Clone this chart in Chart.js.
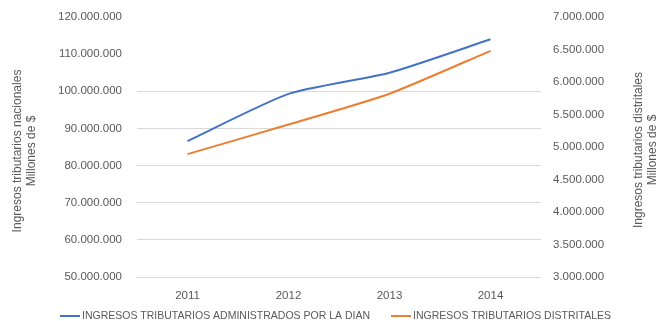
<!DOCTYPE html>
<html>
<head>
<meta charset="utf-8">
<script src="https://cdn.jsdelivr.net/npm/chart.js@4"></script>
<style>
  html, body { margin: 0; padding: 0; background: #fff; }
  #wrap { width: 656px; height: 321px; }
</style>
</head>
<body>
<div id="wrap"><canvas id="chart"></canvas></div>
<script>
// data
const years = ['2011', '2012', '2013', '2014'];
const ingresosDian = [86600000, 99300000, 105000000, 114000000];
const ingresosDistritales = [4890000, 5345000, 5820000, 6480000];
const labelDian = 'INGRESOS TRIBUTARIOS ADMINISTRADOS POR LA DIAN';
const labelDistritales = 'INGRESOS TRIBUTARIOS DISTRITALES';
const leftTitle = ['Ingresos tributarios nacionales', 'Millones de $'];
const rightTitle = ['Ingresos tributarios distritales', 'Millones de $'];
const hiddenGrid = [110000000, 120000000]; // covered by the title box in the original

const FONT = "'Liberation Sans', Arial, sans-serif";
const GREY = '#595959';

// 120.000.000 style numbers
function fmt(v) {
    return String(Math.round(v)).replace(/\B(?=(\d{3})+(?!\d))/g, '.');
}

// axis titles + legend drawn by hand so they sit where the original has them
const extras = {
    id: 'extras',
    afterDraw(chart) {
        const ctx = chart.ctx;
        ctx.save();
        ctx.fillStyle = GREY;
        ctx.font = '12px ' + FONT;
        ctx.textAlign = 'center';
        ctx.textBaseline = 'middle';

        const drawTitle = (lines, xs, cy) => {
            lines.forEach((t, i) => {
                ctx.save();
                ctx.translate(xs[i], cy);
                ctx.rotate(-Math.PI / 2);
                ctx.fillText(t, 0, 0);
                ctx.restore();
            });
        };
        drawTitle(leftTitle, [18, 32], 151);
        drawTitle(rightTitle, [639, 653], 150);

        // legend
        ctx.font = '10.5px ' + FONT;
        ctx.textAlign = 'left';
        let x = 60;
        const y = 316;
        chart.data.datasets.forEach((ds, i) => {
            ctx.strokeStyle = ds.borderColor;
            ctx.lineWidth = 2;
            ctx.beginPath();
            ctx.moveTo(x, y);
            ctx.lineTo(x + 20, y);
            ctx.stroke();
            x += 22;
            ctx.fillStyle = GREY;
            ctx.fillText(ds.label, x, y);
            x += ctx.measureText(ds.label).width + 21;
        });
        ctx.restore();
    }
};

new Chart(document.getElementById('chart'), {
    type: 'line',
    data: {
        labels: years,
        datasets: [
            {
                label: labelDian,
                data: ingresosDian,
                yAxisID: 'y',
                borderColor: '#4472C4',
                backgroundColor: '#4472C4',
                borderWidth: 2,
                pointRadius: 0,
                tension: 0.2
            },
            {
                label: labelDistritales,
                data: ingresosDistritales,
                yAxisID: 'y1',
                borderColor: '#ED7D31',
                backgroundColor: '#ED7D31',
                borderWidth: 2,
                pointRadius: 0,
                tension: 0.2
            }
        ]
    },
    options: {
        responsive: true,
        maintainAspectRatio: false,
        animation: false,
        layout: { padding: { top: 17, left: 0, right: 0, bottom: 0 } },
        plugins: {
            legend: { display: false },
            tooltip: { enabled: false }
        },
        scales: {
            x: {
                offset: true,
                grid: { display: false },
                border: { display: false },
                ticks: { color: GREY, font: { family: FONT, size: 11.5 }, padding: 4 },
                afterFit(scale) { scale.height = 44; }
            },
            y: {
                position: 'left',
                min: 50000000,
                max: 120000000,
                border: { display: false },
                grid: {
                    drawTicks: true,
                    tickLength: 15,
                    tickColor: 'rgba(0,0,0,0)',
                    lineWidth: 1,
                    color: (c) => hiddenGrid.includes(c.tick && c.tick.value) ? 'rgba(0,0,0,0)' : '#d9d9d9'
                },
                ticks: {
                    stepSize: 10000000,
                    color: GREY,
                    font: { family: FONT, size: 11.5 },
                    padding: 0,
                    callback: (v) => fmt(v)
                },
                afterFit(scale) { scale.width = 137; }
            },
            y1: {
                position: 'right',
                min: 3000000,
                max: 7000000,
                border: { display: false },
                grid: { drawOnChartArea: false, drawTicks: true, tickLength: 12, tickColor: 'rgba(0,0,0,0)' },
                ticks: {
                    stepSize: 500000,
                    color: GREY,
                    font: { family: FONT, size: 11.5 },
                    padding: 0,
                    callback: (v) => fmt(v)
                },
                afterFit(scale) { scale.width = 115; }
            }
        }
    },
    plugins: [extras]
});
</script>
</body>
</html>
